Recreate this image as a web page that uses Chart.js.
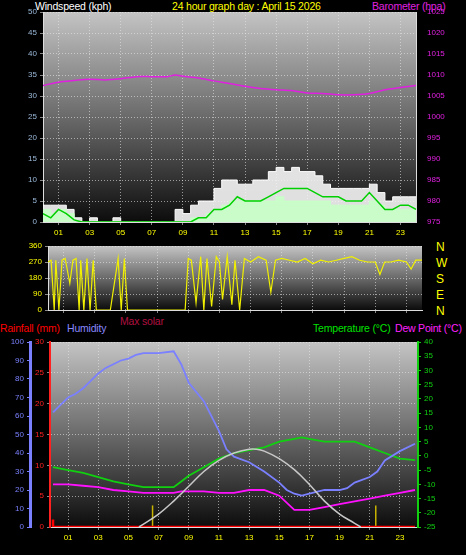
<!DOCTYPE html>
<html>
<head>
<meta charset="utf-8">
<script src="https://cdn.jsdelivr.net/npm/chart.js@4"></script>
<style>
  body { margin: 0; background: #000; width: 466px; height: 555px; overflow: hidden; position: relative; font-family: "Liberation Sans", Arial, sans-serif; }
  canvas { position: absolute; left: 0; }
  .t { position: absolute; font-size: 10.5px; white-space: nowrap; line-height: 12px; letter-spacing: -0.2px; }
</style>
</head>
<body>
<div class="t" style="left:35px;top:0;color:#fff">Windspeed (kph)</div>
<div class="t" style="left:172px;top:0;color:#ff0">24 hour graph day : April 15 2026</div>
<div class="t" style="left:372px;top:0;color:#e020e0">Barometer (hpa)</div>
<div class="t" style="left:436px;top:239px;color:#ff0;font-size:12px;line-height:16px">N<br>W<br>S<br>E<br>N</div>
<div class="t" style="left:120px;top:315px;color:#b01040">Max solar</div>
<div class="t" style="left:0;top:322px;color:#f00">Rainfall (mm)</div>
<div class="t" style="left:67px;top:322px;color:#8888ff">Humidity</div>
<div class="t" style="left:313px;top:322px;color:#00e000">Temperature (°C)</div>
<div class="t" style="left:395px;top:322px;color:#ff20ff">Dew Point (°C)</div>
<canvas id="wind" width="466" height="240" style="top:0"></canvas>
<canvas id="dir" width="466" height="90" style="top:236px"></canvas>
<canvas id="temp" width="466" height="225" style="top:330px"></canvas>
<script>
// ---- data ----
const hourTicks = [1, 3, 5, 7, 9, 11, 13, 15, 17, 19, 21, 23];
const hourLabels = ["01", "03", "05", "07", "09", "11", "13", "15", "17", "19", "21", "23"];

const windHours = [0,0.5,1,1.5,2,2.5,3,3.5,4,4.5,5,5.5,6,6.5,7,7.5,8,8.5,9,9.5,10,10.5,11,11.5,12,12.5,13,13.5,14,14.5,15,15.5,16,16.5,17,17.5,18,18.5,19,19.5,20,20.5,21,21.5,22,22.5,23,23.5,24];
const windGust  = [4,4,4,3,1,0,1,0,0,1,0,0,0,0,0,0,0,3,2,4,5,5,8,10,10,9,9,10,10,12,13,12,13,12,12,11,9,8,8,8,8,8,9,7,5,6,6,6,6];
const windSpeed = [3,2,3,2,0,0,0,0,0,0,0,0,0,0,0,0,0,0,0,1,1,2,3,4,5,5,5,5,5,5,6,5,5,5,5,5,5,4,4,4,4,4,5,4,3,3,3,3,3];
const windAvg   = [2,1,3,2,0.5,0,0,0,0,0,0,0,0,0,0,0,0,0,0,0,1,1,3,3,4,6,5,5,5,6,7,8,8,8,8,7,6,6,6,5,5,5,7,5,3,3,4,4,3];

const baroHours = [0,1,2,3,4,5,6,7,8,8.5,9,10,11,12,13,14,15,16,17,18,19,20,21,22,23,24];
const baroValues = [1007.5,1008.3,1008.7,1009,1008.8,1009.1,1009.6,1009.6,1009.6,1010,1009.7,1009.3,1008.6,1008,1007.3,1006.8,1006.5,1006.3,1005.7,1005.6,1005.3,1005.3,1005.6,1006.5,1007,1007.5];

const dirHours  = [0,0.2,0.4,0.5,0.7,0.9,1.1,1.4,1.6,1.8,2.0,2.1,2.3,2.5,2.7,2.9,3.1,3.4,4,4.5,4.7,4.9,5.1,5.5,6,7,8,8.8,9,9.2,9.5,9.8,10,10.2,10.5,10.8,11,11.2,11.5,11.8,12,12.3,12.6,13,13.5,14,14.3,14.6,15,15.5,16,16.5,17,17.5,18,18.5,19,19.5,20,20.5,21,21.3,21.6,22,22.5,23,23.3,23.6,24];
const dirValues = [270,280,0,280,0,280,290,150,280,290,0,280,0,290,0,280,0,0,0,290,0,290,0,0,0,0,0,0,290,280,40,300,0,290,20,300,270,60,300,30,280,0,290,270,300,280,100,280,290,280,270,290,260,280,270,280,290,300,280,270,270,200,270,270,280,270,230,280,280];

const humHours  = [0,0.5,1,1.5,2,2.5,3,3.5,4,4.5,5,5.5,6,7,8,8.5,9,10,11,11.5,12,13,14,15,15.5,16,16.5,17,18,19,19.5,20,21,21.5,22,23,24];
const humValues = [62,66,70,72,75,79,83,86,88,90,91,93,94,94,95,88,78,68,52,42,38,35,30,24,20,18,17,18,20,20,21,24,27,30,36,41,45];

const tempHours = [0,1,2,3,4,5,6,7,8,8.5,9,10,11,12,13,14,15,16,16.5,17,18,19,20,21,22,23,24];
const tempValues = [-4,-5,-6,-7.5,-9,-10,-11,-11,-11,-9,-7,-4,-1,1,2,3,5,6,6.5,6,5,5,5,3,1,-1,-1.5];
const dewValues = [-10,-10,-10.5,-11,-12,-12.5,-13,-13,-13,-12.5,-12.5,-12.5,-13,-13,-12,-12,-14,-19,-19,-19,-18,-17,-16,-15,-14,-13,-12];

const solarHours = [5.7,7,8,9,10,11,12,13,13.5,14,15,16,17,18,19,20,20.4];
const solarValues = [0,7,14,22,30,36,40,42,42,41,37,31,23,14,7,2,0];

const rainHours = [0,0,0.2,24];
const rainValues = [1.2,0,0,0];
const sunHours = [6.6, 21.4];
const sunHeight = 3.5;

// ---- helpers ----
const pts = (xs, ys) => xs.map((x, i) => ({ x: x, y: ys[i] }));
const gradientBg = {
  id: "gradientBg",
  beforeDraw: function (chart) {
    const a = chart.chartArea, c = chart.ctx;
    const g = c.createLinearGradient(0, a.top, 0, a.bottom);
    g.addColorStop(0, "#c4c4c4");
    g.addColorStop(0.5, "#6a6a6a");
    g.addColorStop(1, "#0c0c0c");
    c.save();
    c.fillStyle = g;
    c.fillRect(a.left, a.top, a.right - a.left, a.bottom - a.top);
    c.restore();
  },
};
const grid = { color: "rgba(230,230,230,0.6)", lineWidth: 1, tickLength: 3, tickColor: "#888" };
const tickFont = { family: "Liberation Sans", size: 8 };
const plain = (v) => String(v);
function xAxis(min, max, show) {
  return {
    type: "linear", min: min, max: max,
    afterBuildTicks: function (s) { s.ticks = hourTicks.map((v) => ({ value: v })); },
    ticks: { display: show, color: "#ff0", font: tickFont, autoSkip: false,
      callback: function (v) { return hourLabels[hourTicks.indexOf(v)]; } },
    grid: grid, border: { color: "#ddd", dash: [1, 2] },
  };
}
function fixedWidth(w) { return function (s) { s.width = w; }; }
function fixedHeight(h) { return function (s) { s.height = h; }; }
Chart.defaults.animation = false;
Chart.defaults.plugins.legend.display = false;
Chart.defaults.plugins.tooltip.enabled = false;
Chart.defaults.elements.point.radius = 0;
Chart.defaults.responsive = false;

// ---- windspeed / barometer ----
new Chart(document.getElementById("wind"), {
  type: "line",
  data: {
    datasets: [
      { data: pts(baroHours, baroValues), yAxisID: "baro", borderColor: "#e020e0", borderWidth: 1.5, tension: 0.3 },
      { data: pts(windHours, windAvg), yAxisID: "y", borderColor: "#00d000", borderWidth: 1.5 },
      { data: pts(windHours, windSpeed), yAxisID: "y", borderColor: "#c8ffc8", backgroundColor: "rgba(200,255,200,0.9)", fill: "origin", borderWidth: 1, stepped: true },
      { data: pts(windHours, windGust), yAxisID: "y", borderColor: "#fff", backgroundColor: "rgba(245,245,245,0.9)", fill: "origin", borderWidth: 1, stepped: true },
    ],
  },
  options: {
    layout: { padding: { top: 12, bottom: 0, left: 0, right: 0 } },
    scales: {
      x: Object.assign(xAxis(0, 24, true), { afterFit: fixedHeight(18) }),
      y: { position: "left", min: 0, max: 50, afterFit: fixedWidth(43),
        ticks: { stepSize: 5, color: "#9ab8d8", font: tickFont },
        grid: grid, border: { color: "#ddd", dash: [1, 2] } },
      baro: { position: "right", min: 975, max: 1025, afterFit: fixedWidth(50),
        ticks: { stepSize: 5, color: "#e020e0", font: tickFont, callback: plain },
        grid: { display: false }, border: { color: "#ddd" } },
    },
  },
  plugins: [gradientBg],
});

// ---- wind direction ----
new Chart(document.getElementById("dir"), {
  type: "line",
  data: { datasets: [
    { data: pts(dirHours, dirValues), borderColor: "#f0f000", borderWidth: 1.2 },
  ] },
  options: {
    layout: { padding: { top: 10, bottom: 0, left: 0, right: 0 } },
    scales: {
      x: Object.assign(xAxis(0, 24, false), { afterFit: fixedHeight(16) }),
      y: { position: "left", min: 0, max: 360, afterFit: fixedWidth(48),
        ticks: { stepSize: 90, color: "#ff0", font: tickFont },
        grid: grid, border: { color: "#ddd", dash: [1, 2] } },
      r: { position: "right", min: 0, max: 360, afterFit: fixedWidth(44),
        ticks: { display: false }, grid: { display: false }, border: { display: false } },
    },
  },
  plugins: [gradientBg],
});

// ---- temperature / humidity ----
new Chart(document.getElementById("temp"), {
  type: "line",
  data: { datasets: [
    { data: pts(solarHours, solarValues), yAxisID: "hum", borderColor: "#c8c8c8", borderWidth: 1.5, tension: 0.4 },
    { data: pts(humHours, humValues), yAxisID: "hum", borderColor: "#7a80ff", borderWidth: 1.8 },
    { data: pts(tempHours, tempValues), yAxisID: "temp", borderColor: "#10d010", borderWidth: 1.8 },
    { data: pts(tempHours, dewValues), yAxisID: "temp", borderColor: "#ff10ff", borderWidth: 1.8 },
    { data: pts(rainHours, rainValues), yAxisID: "rain", borderColor: "#ff0000", borderWidth: 2.5 },
    { data: [{ x: sunHours[0], y: 0 }, { x: sunHours[0], y: sunHeight }], yAxisID: "rain", borderColor: "#c8b400", borderWidth: 1.5 },
    { data: [{ x: sunHours[1], y: 0 }, { x: sunHours[1], y: sunHeight }], yAxisID: "rain", borderColor: "#c8b400", borderWidth: 1.5 },
  ] },
  options: {
    layout: { padding: { top: 12, bottom: 0, left: 0, right: 0 } },
    scales: {
      x: Object.assign(xAxis(-0.2, 24.2, true), { afterFit: fixedHeight(28) }),
      rain: { position: "left", min: 0, max: 30, afterFit: fixedWidth(20),
        ticks: { stepSize: 5, color: "#ff2020", font: tickFont },
        grid: grid, border: { color: "#ff2020", width: 2, dash: [1, 2] } },
      hum: { position: "left", min: 0, max: 100, afterFit: fixedWidth(30),
        ticks: { stepSize: 10, color: "#7a80ff", font: tickFont },
        grid: { drawOnChartArea: false, tickColor: "#7a80ff", tickLength: 3 }, border: { color: "#7a80ff", width: 3 } },
      temp: { position: "right", min: -25, max: 40, afterFit: fixedWidth(48),
        ticks: { stepSize: 5, color: "#10d010", font: tickFont },
        grid: { drawOnChartArea: false, tickColor: "#10d010", tickLength: 3 }, border: { color: "#10d010", width: 2 } },
    },
  },
  plugins: [gradientBg],
});
</script>
</body>
</html>
